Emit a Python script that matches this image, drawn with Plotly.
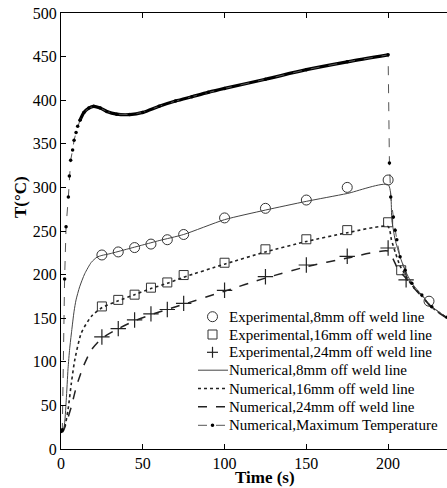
import plotly.graph_objects as go

# ---- Experimental data ----
exp8_t = [25, 35, 45, 55, 65, 75, 100, 125, 150, 175, 200, 225]
exp8_T = [222.5, 226, 231, 235, 240, 246, 265, 276, 285.5, 300, 308.5, 169.5]

exp16_t = [25, 35, 45, 55, 65, 75, 100, 125, 150, 175, 200, 208]
exp16_T = [163.5, 171, 177, 185, 191, 199.5, 213.6, 229, 240.5, 251, 260, 205]

exp24_t = [25, 35, 45, 55, 65, 75, 100, 125, 150, 175, 200, 211]
exp24_T = [128.5, 138, 148, 155, 160, 167, 182, 197.6, 211, 221, 230.5, 194]

# ---- Numerical data ----
num8_t = [0, 1.8, 3.2, 4.3, 5.3, 6.5, 8, 9.2, 11.4, 14.5, 18.5, 22, 25, 30, 40, 50, 60, 75,
          100, 125, 150, 175, 200, 202.3, 204.3, 207.3, 210.4, 214.5, 220.6, 226.7, 236]
num8_T = [20, 25, 56, 92, 115, 135, 158, 171, 186, 201, 214, 220, 222, 224, 229, 234, 239, 246,
          263, 274, 284, 293, 303, 262, 240, 220.5, 205, 190, 176.6, 163, 151]

num16_t = [0, 2.3, 4.3, 6.3, 8.4, 12.4, 18.5, 25, 35, 45, 55, 65, 75, 100, 125, 150, 175, 200,
           202, 204.3, 207.3, 210.4, 214.5, 220.6, 226.7, 236]
num16_T = [20, 26, 45, 75, 102, 133, 152, 162, 170, 177, 184, 190, 197, 212, 226, 238, 248, 255,
           240, 226, 210, 200, 188, 175.5, 162.5, 150.5]

num24_t = [0, 1.2, 3.2, 6.3, 9.4, 13.5, 18.5, 25, 35, 45, 55, 65, 75, 100, 125, 150, 175, 200,
           203.3, 206.3, 210.4, 214.5, 220.6, 226.7, 236]
num24_T = [20, 20, 29.5, 48.5, 71.5, 94, 113.5, 127, 138, 147, 154, 160, 166, 181, 196, 209, 219, 227,
           217, 205, 197, 187, 175, 162, 150]

max_t = [0, 0.8, 2.2, 3.1, 4.5, 5.1, 5.9, 7.1, 8, 9.2, 10.2, 11.6, 14, 17, 20, 24, 28, 34, 42, 50,
         60, 70, 80, 90, 100, 125, 150, 175, 200, 200.8, 201.6, 203.2, 204.3, 205.3, 207.3, 210.4,
         214.5, 220.6, 226.7, 236]
max_T = [20, 22, 195, 255, 289, 313, 331, 343, 354, 363, 370, 377, 386, 391, 393, 391, 387, 384, 383.5, 386,
         393, 399, 404, 409, 413.5, 424, 435, 444, 452, 328, 289, 266, 251, 240, 220.5, 205,
         190, 176.6, 163, 151]

x_ticks = [0, 50, 100, 150, 200]
y_ticks = [0, 50, 100, 150, 200, 250, 300, 350, 400, 450, 500]

legend_labels = ["Experimental,8mm off weld line", "Experimental,16mm off weld line",
                 "Experimental,24mm off weld line", "Numerical,8mm off weld line",
                 "Numerical,16mm off weld line", "Numerical,24mm off weld line",
                 "Numerical,Maximum Temperature"]

FONT = "Liberation Serif"
W, H = 447, 488
ML, MR, MT, MB = 61, 0, 13, 39
PW, PH = W - ML - MR, H - MT - MB


def px_x(px):
    return (px - ML) / PW


def px_y(py):
    return (H - MB - py) / PH


fig = go.Figure()

i0, i1 = max_t.index(11.6), max_t.index(200)
fig.add_trace(go.Scatter(x=max_t[i0:i1 + 1], y=max_T[i0:i1 + 1], mode="lines",
                         line=dict(color="black", width=3.2, shape="spline", smoothing=0.8),
                         showlegend=False, hoverinfo="skip"))
fig.add_trace(go.Scatter(x=exp8_t, y=exp8_T, mode="markers", name=legend_labels[0],
                         marker=dict(symbol="circle-open", size=10, color="#333", line=dict(width=1))))
fig.add_trace(go.Scatter(x=exp16_t, y=exp16_T, mode="markers", name=legend_labels[1],
                         marker=dict(symbol="square-open", size=9, color="#333", line=dict(width=1))))
fig.add_trace(go.Scatter(x=exp24_t, y=exp24_T, mode="markers", name=legend_labels[2],
                         marker=dict(symbol="cross-thin-open", size=11, color="#222", line=dict(width=1.2))))
fig.add_trace(go.Scatter(x=num8_t, y=num8_T, mode="lines", name=legend_labels[3],
                         line=dict(color="#444", width=1, shape="spline", smoothing=0.6)))
fig.add_trace(go.Scatter(x=num16_t, y=num16_T, mode="lines", name=legend_labels[4],
                         line=dict(color="#222", width=1.6, dash="dot", shape="spline", smoothing=0.6)))
fig.add_trace(go.Scatter(x=num24_t, y=num24_T, mode="lines", name=legend_labels[5],
                         line=dict(color="#222", width=1.5, dash="dash", shape="spline", smoothing=0.6)))
fig.add_trace(go.Scatter(x=max_t, y=max_T, mode="lines+markers", name=legend_labels[6],
                         line=dict(color="#555", width=1, dash="dash"),
                         marker=dict(symbol="circle", size=3.5, color="black")))

# ---- hand-built legend (compact row spacing as in the original) ----
row_y = [316.7, 334.5, 352.3, 370.2, 388.5, 406.7, 425.3]
sym_x = 212.5
line_x0, line_x1 = 198, 228
annotations = []
shapes = []
for lab, ry in zip(legend_labels, row_y):
    annotations.append(dict(text=lab, x=px_x(227), y=px_y(ry), xref="paper", yref="paper",
                            xanchor="left", yanchor="middle", showarrow=False,
                            font=dict(family=FONT, size=15, color="black")))
pix = dict(xref="paper", yref="paper", xsizemode="pixel", ysizemode="pixel",
           xanchor=px_x(sym_x), yanchor=px_y(row_y[0]))
shapes.append(dict(type="circle", x0=-5, x1=5, y0=-5, y1=5, line=dict(color="#333", width=1),
                   **{**pix, "yanchor": px_y(row_y[0])}))
shapes.append(dict(type="rect", x0=-4.5, x1=4.5, y0=-4.5, y1=4.5, line=dict(color="#333", width=1),
                   **{**pix, "yanchor": px_y(row_y[1])}))
shapes.append(dict(type="line", x0=-5.5, x1=5.5, y0=0, y1=0, line=dict(color="#222", width=1.2),
                   **{**pix, "yanchor": px_y(row_y[2])}))
shapes.append(dict(type="line", x0=0, x1=0, y0=-5.5, y1=5.5, line=dict(color="#222", width=1.2),
                   **{**pix, "yanchor": px_y(row_y[2])}))
for k, (dash, wid, col) in zip([3, 4, 5, 6], [("solid", 1, "#444"), ("dot", 1.6, "#222"),
                                              ("dash", 1.5, "#222"), ("dash", 1, "#555")]):
    shapes.append(dict(type="line", xref="paper", yref="paper", x0=px_x(line_x0), x1=px_x(line_x1),
                       y0=px_y(row_y[k]), y1=px_y(row_y[k]), line=dict(color=col, width=wid, dash=dash)))
shapes.append(dict(type="circle", x0=-1.8, x1=1.8, y0=-1.8, y1=1.8, fillcolor="black",
                   line=dict(color="black", width=0), **{**pix, "yanchor": px_y(row_y[6])}))

annotations += [
    dict(text="<b>Time (s)</b>", x=px_x(265), y=px_y(477), xref="paper", yref="paper",
         showarrow=False, font=dict(family=FONT, size=17, color="black"), yanchor="middle"),
    dict(text="<b>T(°C)</b>", x=px_x(20), y=px_y(197), xref="paper", yref="paper", textangle=-90,
         showarrow=False, font=dict(family=FONT, size=17, color="black"), xanchor="center"),
]

axis_common = dict(showgrid=False, zeroline=False, showline=True, linecolor="black", linewidth=1,
                   ticks="inside", ticklen=5, tickcolor="black", tickwidth=1,
                   tickfont=dict(family=FONT, size=16, color="black"))

fig.update_layout(
    width=W, height=H,
    margin=dict(l=ML, r=MR, t=MT, b=MB),
    paper_bgcolor="white", plot_bgcolor="white",
    showlegend=False,
    xaxis=dict(range=[0, 236], tickvals=x_ticks, mirror="ticks", **axis_common),
    yaxis=dict(range=[0, 500], tickvals=y_ticks, mirror=False, **axis_common),
    annotations=annotations,
    shapes=shapes,
)

fig.write_html("out.html", config={"displayModeBar": False},
               post_script="document.body.style.margin='0';document.body.style.padding='0';")
